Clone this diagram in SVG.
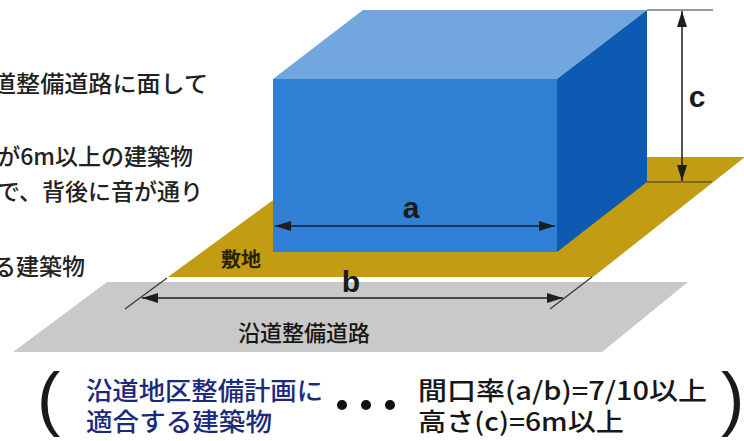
<svg xmlns="http://www.w3.org/2000/svg" width="744" height="441" viewBox="0 0 744 441">
  <style>
    .jp { font-family: "Noto Sans CJK JP", "Noto Sans", sans-serif; }
    .body { font-size: 23px; fill: #222; font-weight: 500; }
    .note { font-size: 25px; font-weight: 500; }
    .blue { fill: #1c2a7c; }
    .dark { fill: #161616; }
    .lbl { font-family: "Liberation Sans", Arial, sans-serif; font-weight: bold; font-size: 30px; fill: #1a1a1a; text-anchor: middle; }
    .dim { stroke: #1e1e1e; stroke-width: 1.5; fill: none; }
    .ext { stroke: #333; stroke-width: 1.2; fill: none; }
    .paren { font-family: "Liberation Sans", Arial, sans-serif; font-size: 70px; fill: #1a1a1a; }
  </style>
  <defs>
    <marker id="ah" viewBox="0 0 16 10" refX="16" refY="5" markerWidth="16" markerHeight="10" markerUnits="userSpaceOnUse" orient="auto-start-reverse">
      <path d="M0,0 L16,5 L0,10 Z" fill="#1e1e1e"/>
    </marker>
  </defs>
  <rect width="744" height="441" fill="#ffffff"/>

  <g id="road">
    <polygon points="107,282 688,282 602,352 13,352" fill="#c9c9c9"/>
    <text class="jp dark" x="238" y="341" font-size="22" font-weight="500">沿道整備道路</text>
  </g>

  <g id="site">
    <polygon points="168,277 332,157 745,157 593,277" fill="#c29c12"/>
    <text class="jp" x="241" y="267" font-size="20" font-weight="bold" text-anchor="middle" fill="#2a2205">敷地</text>
  </g>

  <g id="building">
    <polygon points="273,79 363,10 647,10 557,79" fill="#72a6df"/>
    <polygon points="557,79 647,10 647,182 557,252" fill="#0c5ab2"/>
    <rect x="273" y="79" width="284" height="173" fill="#2f80d4"/>
  </g>

  <g id="connectors">
    <line class="ext" x1="647" y1="10" x2="713" y2="10" stroke="#8a8a8a"/>
    <line class="ext" x1="647" y1="182" x2="712" y2="182"/>
    <line class="dim" x1="682" y1="11" x2="682" y2="181" marker-start="url(#ah)" marker-end="url(#ah)"/>
    <line class="dim" x1="275" y1="226" x2="555" y2="226" marker-start="url(#ah)" marker-end="url(#ah)"/>
    <line class="ext" x1="125" y1="309" x2="167" y2="278"/>
    <line class="ext" x1="550" y1="309" x2="592" y2="277"/>
    <line class="dim" x1="142" y1="298" x2="563" y2="298" marker-start="url(#ah)" marker-end="url(#ah)"/>
  </g>

  <g id="labels">
    <text class="lbl" x="411" y="218">a</text>
    <text class="lbl" x="351" y="292">b</text>
    <text class="lbl" x="697" y="107">c</text>
  </g>

  <g id="description">
    <text class="jp body" x="-8" y="92" textLength="216" lengthAdjust="spacingAndGlyphs">道整備道路に面して</text>
    <text class="jp body" x="193" y="165" text-anchor="end">が6m以上の建築物</text>
    <text class="jp body" x="203" y="200" text-anchor="end">で、背後に音が通り</text>
    <text class="jp body" x="85" y="275" text-anchor="end">る建築物</text>
  </g>

  <g id="formula">
    <text class="paren" x="37" y="422">(</text>
    <text class="jp note blue" x="86" y="400" textLength="237" lengthAdjust="spacingAndGlyphs">沿道地区整備計画に</text>
    <text class="jp note blue" x="86" y="431" textLength="186" lengthAdjust="spacingAndGlyphs">適合する建築物</text>
    <circle cx="342" cy="405" r="5" fill="#111"/>
    <circle cx="366" cy="405" r="5" fill="#111"/>
    <circle cx="390" cy="405" r="5" fill="#111"/>
    <text class="jp note dark" x="418" y="400" textLength="289" lengthAdjust="spacingAndGlyphs">間口率(a/b)=7/10以上</text>
    <text class="jp note dark" x="418" y="431" textLength="206" lengthAdjust="spacingAndGlyphs">高さ(c)=6m以上</text>
    <text class="paren" x="721" y="422">)</text>
  </g>
</svg>
